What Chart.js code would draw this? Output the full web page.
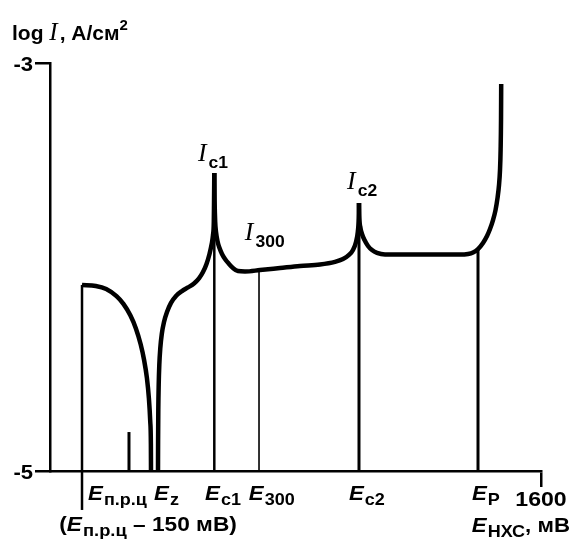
<!DOCTYPE html>
<html><head><meta charset="utf-8">
<script src="https://cdn.jsdelivr.net/npm/chart.js@4.4.0/dist/chart.umd.min.js"></script>
<style>html,body{margin:0;padding:0;background:#fff}#wrap{width:572px;height:540px;position:relative}</style>
</head><body><div id="wrap"><canvas id="c"></canvas></div>
<script>
// ---- data (mV on x, log I on y) ----
const xTicks = [1600];
const yTicks = [-3, -5];

// left arc (from E_пр.ц - 150 mV down to the dip)
const arcX = [104.3,149.2,183.1,216.7,239.2,261.7,279.6,295.4,306.6,315.8,322.3,326.8,328.7,329.1];
const arcY = [-4.088,-4.093,-4.108,-4.143,-4.181,-4.237,-4.300,-4.379,-4.456,-4.544,-4.644,-4.761,-4.868,-5.0];

// rising branch up to peak I_c1
const riseX = [351.94,352.26,352.92,354.22,356.18,359.44,364.33,371.49,381.27,394.31,410.60,430.15,449.70,469.25,485.54,498.58,509.99,519.76,526.93,531.17,533.78,534.43,535.4];
const riseY = [-5.0,-4.848,-4.701,-4.578,-4.480,-4.397,-4.328,-4.270,-4.221,-4.176,-4.142,-4.118,-4.100,-4.081,-4.056,-4.025,-3.985,-3.936,-3.887,-3.843,-3.779,-3.696,-3.539];

// from I_c1 to I_c2
const midX = [535.4,536.4,538.3,541.0,545.8,552.4,560.5,570.3,583.3,596.3,612.6,635.4,684.3,749.5,814.6,879.8,928.7,954.8,974.3,987.3,997.2,1003.0,1006.0,1006.9];
const midY = [-3.539,-3.672,-3.779,-3.828,-3.873,-3.907,-3.936,-3.961,-3.985,-4.005,-4.020,-4.022,-4.015,-4.005,-3.995,-3.988,-3.975,-3.961,-3.941,-3.917,-3.877,-3.828,-3.760,-3.686];

// from I_c2 to the transpassive rise
const endX = [1006.9,1008.2,1011.8,1016.7,1024.9,1036.3,1049.3,1065.6,1091.7,1205.7,1336.1,1362.2,1378.5,1394.7,1411.0,1424.1,1433.8,1443.6,1451.8,1458.3,1463.2,1466.4,1468.4,1469.7,1470.3];
const endY = [-3.686,-3.760,-3.809,-3.838,-3.868,-3.897,-3.917,-3.931,-3.939,-3.939,-3.939,-3.936,-3.929,-3.912,-3.882,-3.848,-3.814,-3.770,-3.721,-3.662,-3.598,-3.525,-3.426,-3.279,-3.103];

// vertical marker lines: E_пр.ц-150, E_пр.ц, E_c1, E_300, E_c2, E_P
const markerX      = [104.3, 257.4, 535.4, 681.1, 1006.9, 1394.7];
const markerTop    = [-4.088, -4.809, -3.80, -4.017, -3.78, -3.912];
const markerBottom = [-5.191, -5, -5, -5, -5, -5];

// axis labels under the x axis
const markerLabelSub = ['п.р.ц', 'z', 'c1', '300', 'c2', 'P'];
const markerLabelAt  = [124, 339, 505, 648, 974, 1375];

// curve labels
const peakLabelSub = ['c1', '300', 'c2'];
const peakLabelX   = [482, 635, 968];
const peakLabelY   = [-3.48, -3.87, -3.62];

const yTitle = ['log ', 'I', ', A/см', '2'];
const xTitle = ['E', 'НХС', ', мВ'];
const refLabel = ['(', 'E', 'п.р.ц', ' – 150 мВ)'];

// ---- drawing ----
const SANS = '"Liberation Sans", Arial, sans-serif';
const SERIF = '"Liberation Serif", "Times New Roman", serif';
const F_MAIN = 'bold 21px ' + SANS;
const F_E = 'italic bold 21px ' + SANS;
const F_SUB = 'bold 17px ' + SANS;
const F_I = 'italic 25px ' + SERIF;
const F_SUP = 'bold 15px ' + SANS;

function pts(xs, ys) { return xs.map((x, i) => ({x: x, y: ys[i]})); }
function curve(xs, ys) {
  return {data: pts(xs, ys), borderColor: '#000', borderWidth: 4.5, pointRadius: 0,
          cubicInterpolationMode: 'monotone', fill: false, borderCapStyle: 'butt', borderJoinStyle: 'round'};
}
const markerWidths = [2.5, 3, 2.5, 1.6, 3, 3];
const datasets = [];
markerX.forEach((x, i) => {
  datasets.push({data: [{x: x, y: markerBottom[i]}, {x: x, y: markerTop[i]}], borderColor: '#000',
    borderWidth: markerWidths[i], pointRadius: 0, tension: 0, clip: false});
});
datasets.push(curve(arcX, arcY), curve(riseX, riseY), curve(midX, midY), curve(endX, endY));

function drawRich(ctx, x, y, parts, align, sx) {
  sx = sx || 1;
  let w = 0;
  parts.forEach(p => { ctx.font = p[1]; w += ctx.measureText(p[0]).width + (p[3] || 0); });
  w *= sx;
  let cx = align === 'center' ? x - w / 2 : (align === 'right' ? x - w : x);
  ctx.save();
  ctx.translate(cx, y);
  ctx.scale(sx, 1);
  let px = 0;
  parts.forEach(p => { ctx.font = p[1]; ctx.fillText(p[0], px, (p[2] || 0)); px += ctx.measureText(p[0]).width + (p[3] || 0); });
  ctx.restore();
}

const textPlugin = {
  id: 'texts',
  afterDraw(chart) {
    const ctx = chart.ctx, xs = chart.scales.x, ys = chart.scales.y;
    ctx.save();
    ctx.fillStyle = '#000';
    ctx.textBaseline = 'alphabetic';
    // y title
    drawRich(ctx, 12, 40, [[yTitle[0], F_MAIN], [yTitle[1], F_I, 0, 2], [yTitle[2], F_MAIN], [yTitle[3], F_SUP, -10]], 'left');
    // y tick labels
    yTicks.forEach(v => { drawRich(ctx, 33, ys.getPixelForValue(v) + 8, [[String(v), F_MAIN]], 'right', 1.05); });
    // x tick label
    xTicks.forEach(v => { drawRich(ctx, xs.getPixelForValue(v), 506, [[String(v), F_MAIN]], 'center', 1.1); });
    // marker labels
    markerLabelSub.forEach((s, i) => {
      drawRich(ctx, xs.getPixelForValue(markerLabelAt[i]), 500, [['E', F_E, 0, 1], [s, F_SUB, 5]], 'left', 1.06);
    });
    // peak labels
    peakLabelSub.forEach((s, i) => {
      drawRich(ctx, xs.getPixelForValue(peakLabelX[i]), ys.getPixelForValue(peakLabelY[i]),
        [['I', F_I, 0, 2], [s, F_SUB, 7]], 'left', 1.03);
    });
    // bottom titles
    drawRich(ctx, 148, 531, [[refLabel[0], F_MAIN], [refLabel[1], F_E, 0, 1], [refLabel[2], F_SUB, 5], [refLabel[3], F_MAIN]], 'center', 1.08);
    drawRich(ctx, 570, 532, [[xTitle[0], F_E, 0, 1], [xTitle[1], F_SUB, 5], [xTitle[2], F_MAIN]], 'right', 1.06);
    ctx.restore();
  }
};

new Chart(document.getElementById('c'), {
  type: 'line',
  data: {datasets: datasets},
  options: {
    responsive: true, maintainAspectRatio: false, animation: false,
    layout: {padding: {left: 35, right: 31, top: 63, bottom: 53}},
    plugins: {legend: {display: false}, tooltip: {enabled: false}},
    scales: {
      x: {type: 'linear', min: 0, max: 1600,
          afterBuildTicks: s => { s.ticks = xTicks.map(v => ({value: v})); },
          ticks: {display: false},
          grid: {drawOnChartArea: false, drawTicks: true, tickLength: 16, color: '#000', lineWidth: 2.5},
          border: {display: true, color: '#000', width: 2.5}},
      y: {type: 'linear', min: -5, max: -3,
          afterBuildTicks: s => { s.ticks = yTicks.map(v => ({value: v})); },
          ticks: {display: false},
          grid: {drawOnChartArea: false, drawTicks: true, tickLength: 15, color: '#000', lineWidth: 2.5},
          border: {display: true, color: '#000', width: 2.5}}
    }
  },
  plugins: [textPlugin]
});
</script>
</body></html>
